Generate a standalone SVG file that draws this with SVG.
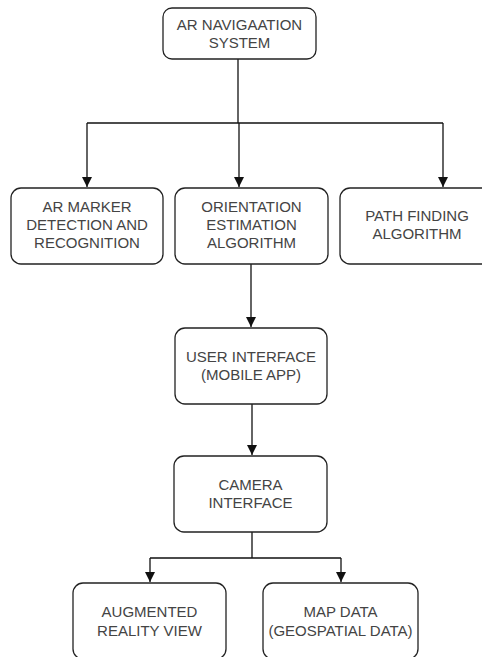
<svg xmlns="http://www.w3.org/2000/svg" width="482" height="657" viewBox="0 0 482 657">
<style>
.box{fill:#fff;stroke:#222;stroke-width:1.3}
.t{font-family:"Liberation Sans",Arial,sans-serif;font-size:15px;fill:#444;text-anchor:middle}
.c{fill:none;stroke:#111;stroke-width:1.3}
</style>
<defs>
<marker id="ah" viewBox="0 0 10 10" refX="10" refY="5" markerWidth="10" markerHeight="10" markerUnits="userSpaceOnUse" orient="auto">
<path d="M0,0 L10,5 L0,10 Z" fill="#111"/>
</marker>
</defs>
<rect width="482" height="657" fill="#fff"/>
<g id="connectors">
<path class="c" d="M238,59 V123" />
<path class="c" d="M87,123 H443" />
<path class="c" d="M87,123 V187" marker-end="url(#ah)"/>
<path class="c" d="M239,123 V187" marker-end="url(#ah)"/>
<path class="c" d="M443,123 V187" marker-end="url(#ah)"/>
<path class="c" d="M251,264 V327" marker-end="url(#ah)"/>
<path class="c" d="M252,404 V455" marker-end="url(#ah)"/>
<path class="c" d="M252,532 V558 M150,558 H341"/>
<path class="c" d="M150,558 V582" marker-end="url(#ah)"/>
<path class="c" d="M341,558 V582" marker-end="url(#ah)"/>
</g>
<g id="ar-nav">
<rect class="box" x="163" y="8" width="153" height="51" rx="9"/>
<text class="t" x="239.5" y="30">AR NAVIGAATION</text>
<text class="t" x="239.5" y="48">SYSTEM</text>
</g>
<g id="ar-marker">
<rect class="box" x="11" y="188" width="152" height="76" rx="10"/>
<text class="t" x="87" y="212">AR MARKER</text>
<text class="t" x="87" y="230">DETECTION AND</text>
<text class="t" x="87" y="248">RECOGNITION</text>
</g>
<g id="orientation">
<rect class="box" x="175" y="188" width="153" height="76" rx="10"/>
<text class="t" x="251.5" y="212">ORIENTATION</text>
<text class="t" x="251.5" y="230">ESTIMATION</text>
<text class="t" x="251.5" y="248">ALGORITHM</text>
</g>
<g id="path-finding">
<rect class="box" x="340" y="188" width="154" height="76" rx="10"/>
<text class="t" x="417" y="221">PATH FINDING</text>
<text class="t" x="417" y="239">ALGORITHM</text>
</g>
<g id="user-interface">
<rect class="box" x="175" y="328" width="152" height="76" rx="10"/>
<text class="t" x="251" y="362">USER INTERFACE</text>
<text class="t" x="251" y="380">(MOBILE APP)</text>
</g>
<g id="camera">
<rect class="box" x="174" y="456" width="153" height="76" rx="10"/>
<text class="t" x="250.5" y="490">CAMERA</text>
<text class="t" x="250.5" y="508">INTERFACE</text>
</g>
<g id="ar-view">
<rect class="box" x="73" y="583" width="153" height="76" rx="10"/>
<text class="t" x="149.5" y="617">AUGMENTED</text>
<text class="t" x="149.5" y="636">REALITY VIEW</text>
</g>
<g id="map-data">
<rect class="box" x="263" y="583" width="155" height="76" rx="10"/>
<text class="t" x="340.5" y="617">MAP DATA</text>
<text class="t" x="340.5" y="636">(GEOSPATIAL DATA)</text>
</g>
</svg>
